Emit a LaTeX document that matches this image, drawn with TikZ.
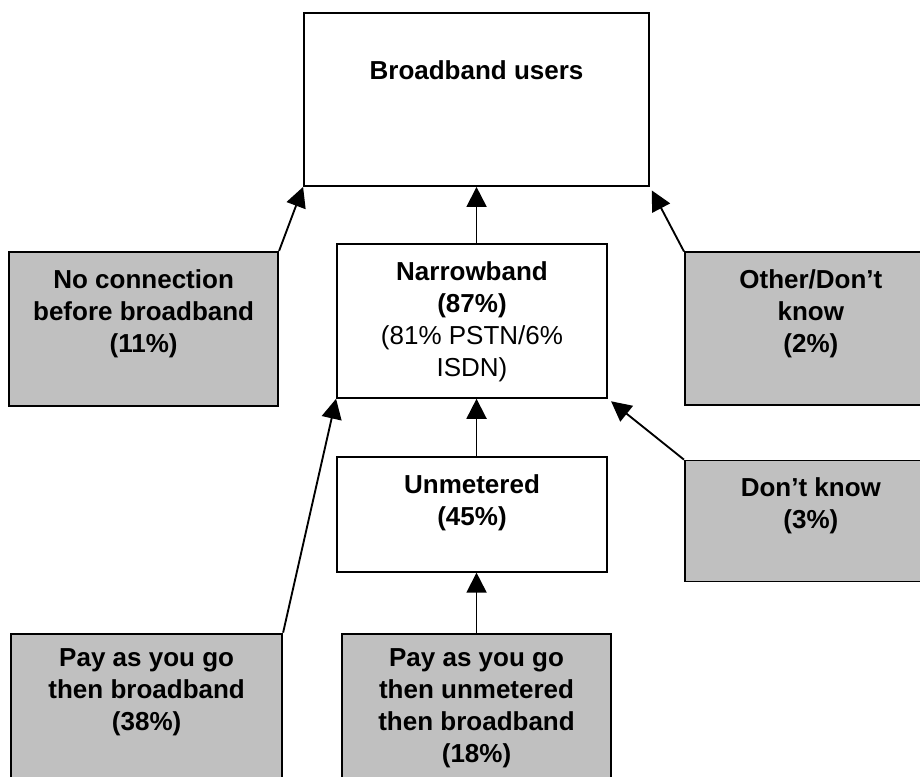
\documentclass[tikz,border=0pt]{standalone}
\usepackage{fontspec}
\setmainfont{Liberation Sans}
\usetikzlibrary{positioning,arrows.meta}

\definecolor{boxgray}{RGB}{192,192,192}

\tikzset{
  stage/.style={draw, line width=1.4pt, fill=white, inner sep=0pt, align=center,
    font=\fontsize{19.5}{24}\selectfont\bfseries},
  share/.style={stage, fill=boxgray},
  move/.style={line width=1.4pt, -{Triangle[length=15pt,width=15pt]}},
}

\begin{document}
\begin{tikzpicture}
    \useasboundingbox (0,0) rectangle (690pt,-582pt);

    \node[stage, minimum width=258.75pt, text height=49.75pt, text depth=80pt] (bb) at (357.4pt,-74.6pt) {Broadband users};
    \node[stage, minimum width=202.5pt, text height=99.25pt, text depth=16.25pt, below=42pt of bb, xshift=-3.4pt] (nb) {Narrowband\\(87\%)\\\mdseries(81\% PSTN/6\%\\\mdseries ISDN)};
    \node[stage, minimum width=202.5pt, text height=51.25pt, text depth=35pt, below=42.75pt of nb] (un) {Unmetered\\(45\%)};

    \node[share, minimum width=201.75pt, text height=97pt, text depth=33pt, below=45pt of un, xshift=3.4pt] (pay2) {Pay as you go\\then unmetered\\then broadband\\(18\%)};
    \node[share, minimum width=203.25pt, text height=73pt, text depth=57pt, left=43.5pt of pay2] (pay1) {Pay as you go\\then broadband\\(38\%)};

    \node[share, minimum width=201.75pt, text height=75.25pt, text depth=40.25pt, left=42.75pt of nb, yshift=-6pt] (nc) {No connection\\before broadband\\(11\%)};
    \node[share, minimum width=189pt, text height=75.25pt, text depth=39.5pt, right=57pt of nb, yshift=-6pt] (oth) {Other/Don’t\\know\\(2\%)};
    \node[share, minimum width=189pt, text height=51.25pt, text depth=39.5pt, below=40pt of oth] (dk) {Don’t know\\(3\%)};

    \draw[move] (nc.north east) -- (bb.south west);
    \draw[move, shorten >=3pt] (oth.north west) -- (bb.south east);
    \draw[move] (bb.south |- nb.north) -- (bb.south);
    \draw[move] (bb.south |- un.north) -- (bb.south |- nb.south);
    \draw[move] (bb.south |- pay2.north) -- (bb.south |- un.south);
    \draw[move] (pay1.north east) -- (nb.south west);
    \draw[move, shorten >=3pt] (dk.north west) -- (nb.south east);
\end{tikzpicture}
\end{document}
